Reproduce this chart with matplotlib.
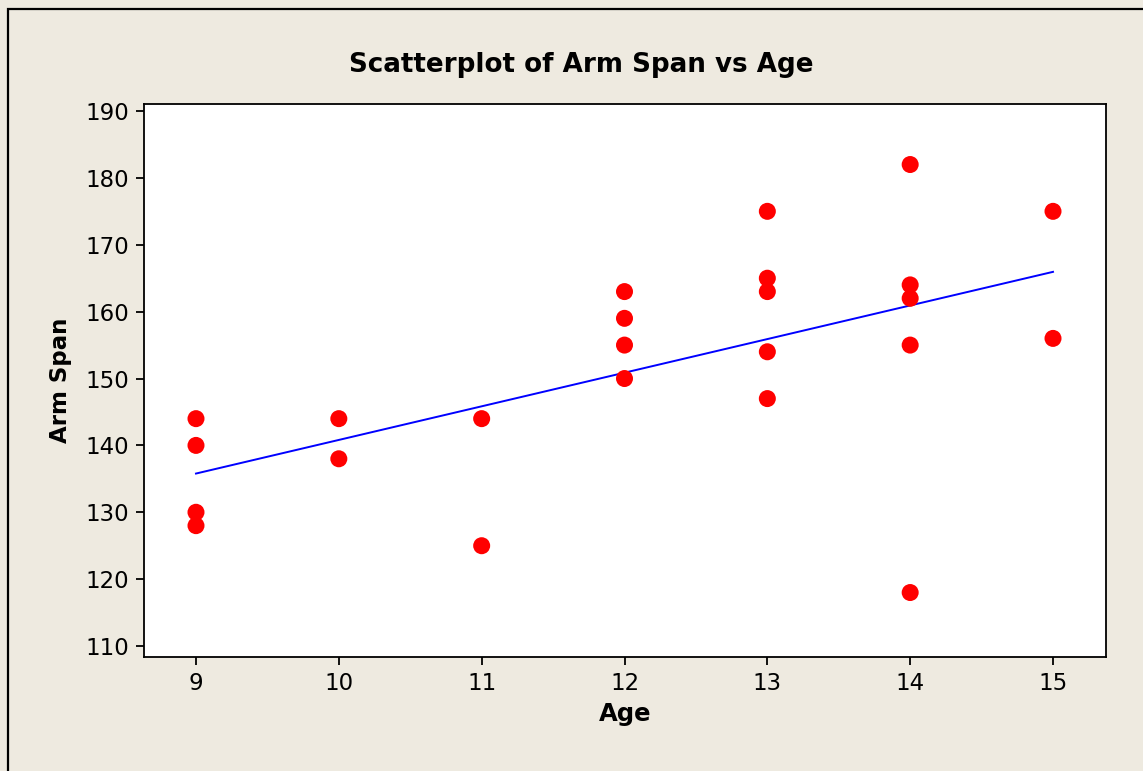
import numpy as np
import matplotlib
matplotlib.use("Agg")
import matplotlib.pyplot as plt
from matplotlib.patches import Rectangle

# --- data ---
age = [9, 9, 9, 9,
       10, 10,
       11, 11,
       12, 12, 12, 12,
       13, 13, 13, 13, 13,
       14, 14, 14, 14, 14,
       15, 15]
arm_span = [144, 140, 130, 128,
            144, 138,
            144, 125,
            163, 159, 155, 150,
            175, 165, 163, 154, 147,
            182, 164, 162, 155, 118,
            175, 156]
x_ticks = [9, 10, 11, 12, 13, 14, 15]
y_ticks = [110, 120, 130, 140, 150, 160, 170, 180, 190]

plt.rcParams['font.family'] = ['DejaVu Sans']

W, H = 1143, 771
fig = plt.figure(figsize=(W / 100, H / 100), dpi=100)
bg = '#EEEAE0'
fig.patch.set_facecolor(bg)

# outer frame (runs off the right/bottom edge like the reference)
fig.patches.append(Rectangle((8 / W, -0.05), 1.2, 1 - 9 / H + 0.05,
                             transform=fig.transFigure, fill=False,
                             edgecolor='black', linewidth=1.6))

ax = fig.add_axes([144 / W, 1 - 657 / H, (1106 - 144) / W, (657 - 104) / H])
ax.set_facecolor('white')

ax.scatter(age, arm_span, s=150, color='#FF0000', edgecolors='none', zorder=3)

# least squares fit line
slope, intercept = np.polyfit(age, arm_span, 1)
xs = np.array([min(age), max(age)])
ax.plot(xs, slope * xs + intercept, color='#0000FF', linewidth=1.4, zorder=2)

ax.set_xlim(8.636, 15.371)
ax.set_ylim(108.36, 191.05)
ax.set_xticks(x_ticks)
ax.set_yticks(y_ticks)
ax.tick_params(direction='out', length=6, width=1.3, labelsize=16.5,
               colors='black', pad=5)
for s in ax.spines.values():
    s.set_linewidth(1.3)

ax.set_xlabel('Age', fontsize=17.5, fontweight='bold', labelpad=5)
ax.set_ylabel('Arm Span', fontsize=16.5, fontweight='bold', labelpad=9)
fig.text(581 / W, 1 - 65 / H, 'Scatterplot of Arm Span vs Age',
         ha='center', va='center', fontsize=18.8, fontweight='bold')

fig.savefig('out.png', dpi=100, facecolor=bg)
